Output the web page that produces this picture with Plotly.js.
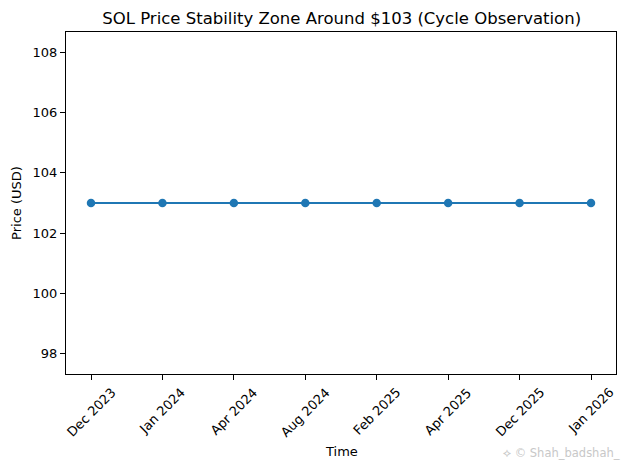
<!DOCTYPE html>
<html>
<head>
<meta charset="utf-8">
<script src="https://cdn.plot.ly/plotly-3.0.1.min.js"></script>
<style>html,body{margin:0;padding:0;background:#fff;}#chart{width:627px;height:470px;}</style>
</head>
<body>
<div id="chart"></div>
<script>
const categories = ["Dec 2023", "Jan 2024", "Apr 2024", "Aug 2024", "Feb 2025", "Apr 2025", "Dec 2025", "Jan 2026"];
const prices = [103, 103, 103, 103, 103, 103, 103, 103];
const yTicks = [98, 100, 102, 104, 106, 108];

const font = "DejaVu Sans, sans-serif";
const idx = categories.map((c, i) => i);
const trace = {
  x: idx,
  y: prices,
  type: "scatter",
  mode: "lines+markers",
  line: {color: "#1f77b4", width: 2},
  marker: {color: "#1f77b4", size: 8.5},
  hoverinfo: "skip"
};
const tickAnns = categories.map((c, i) => ({
  text: c, xref: "x", yref: "paper", x: i, y: -0.024,
  xanchor: "center", yanchor: "top", textangle: -45, showarrow: false,
  font: {family: font, size: 13, color: "#000"}
}));
const layout = {
  width: 627, height: 470,
  margin: {l: 66, r: 11, t: 32, b: 96},
  paper_bgcolor: "#fff", plot_bgcolor: "#fff",
  font: {family: font, size: 13, color: "#000"},
  showlegend: false,
  title: {text: "SOL Price Stability Zone Around $103 (Cycle Observation)", font: {family: font, size: 16.5, color: "#000"}, x: 0.545, xanchor: "center", y: 0.962, yanchor: "middle"},
  xaxis: {
    range: [-0.35, 7.35],
    tickmode: "array",
    tickvals: idx,
    showticklabels: false,
    ticks: "outside", ticklen: 5, tickwidth: 1, tickcolor: "#000",
    showgrid: false, zeroline: false,
    showline: true, linecolor: "#000", linewidth: 1, mirror: true
  },
  yaxis: {
    range: [97.335, 108.665],
    tickmode: "array",
    tickvals: yTicks,
    ticktext: yTicks.map(String),
    ticks: "outside", ticklen: 5, tickwidth: 1, tickcolor: "#000",
    showgrid: false, zeroline: false,
    showline: true, linecolor: "#000", linewidth: 1, mirror: true,
    tickfont: {family: font, size: 13, color: "#000"},
    title: {text: "Price (USD)", font: {family: font, size: 13, color: "#000"}, standoff: 8}
  },
  annotations: tickAnns.concat([{
    text: "Time", xref: "paper", yref: "paper", x: 0.5, y: -0.228,
    xanchor: "center", yanchor: "middle", showarrow: false,
    font: {family: font, size: 13, color: "#000"}
  }, {
    text: "⟡ © Shah_badshah_",
    xref: "paper", yref: "paper", x: 1.01, y: -0.23,
    xanchor: "right", yanchor: "middle", showarrow: false,
    font: {family: font, size: 11.5, color: "#c8c8c8"}
  }])
};
Plotly.newPlot("chart", [trace], layout, {displayModeBar: false, staticPlot: true});
</script>
</body>
</html>
